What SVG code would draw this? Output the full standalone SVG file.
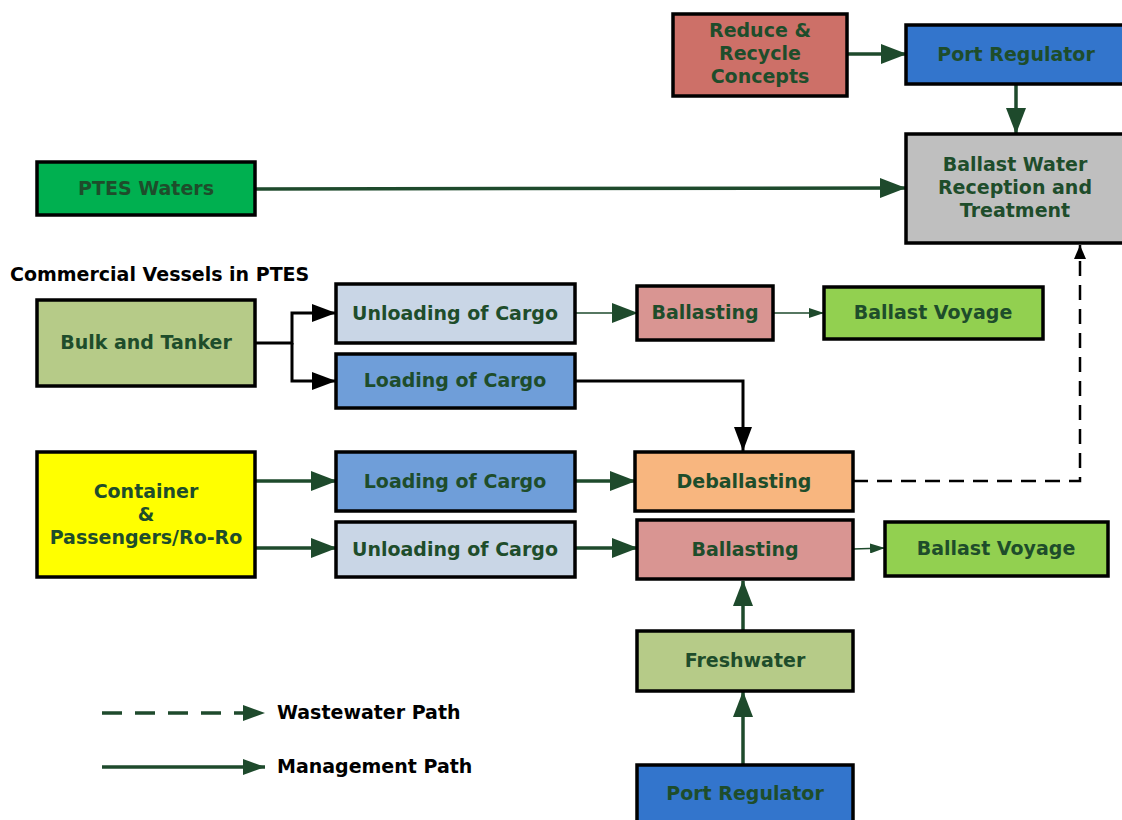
<svg xmlns="http://www.w3.org/2000/svg" width="1122" height="820" viewBox="0 0 1122 820">
<style>
.box{stroke:#000;stroke-width:3.5}
.t{font-family:"DejaVu Sans",Verdana,sans-serif;font-weight:bold;font-size:19px;fill:#1E4D2B;text-anchor:middle}
.lg{font-family:"DejaVu Sans",Verdana,sans-serif;font-weight:bold;font-size:19px;fill:#000}
.g{stroke:#1E4A2C;stroke-width:3.5;fill:none}
.gt{stroke:#1E4A2C;stroke-width:1.3;fill:none}
.k{stroke:#000;stroke-width:3;fill:none}
</style>
<defs>
<marker id="ag" markerUnits="userSpaceOnUse" markerWidth="26" markerHeight="20" refX="25" refY="10" orient="auto"><path d="M0,0 L26,10 L0,20 Z" fill="#1E4A2C"/></marker>
<marker id="agm" markerUnits="userSpaceOnUse" markerWidth="22" markerHeight="16" refX="22" refY="8" orient="auto"><path d="M0,0 L22,8 L0,16 Z" fill="#1E4A2C"/></marker>
<marker id="ags" markerUnits="userSpaceOnUse" markerWidth="15" markerHeight="10" refX="15" refY="5" orient="auto"><path d="M0,0 L15,5 L0,10 Z" fill="#1E4A2C"/></marker>
<marker id="ak" markerUnits="userSpaceOnUse" markerWidth="24" markerHeight="18" refX="24" refY="9" orient="auto"><path d="M0,0 L24,9 L0,18 Z" fill="#000"/></marker>
<marker id="aks" markerUnits="userSpaceOnUse" markerWidth="14" markerHeight="12" refX="14" refY="6" orient="auto"><path d="M0,0 L14,6 L0,12 Z" fill="#000"/></marker>
</defs>
<rect width="1122" height="820" fill="#fff"/>

<g id="connectors">
<line class="g" x1="847" y1="54" x2="906" y2="54" marker-end="url(#ag)"/>
<line class="g" x1="1016" y1="84" x2="1016" y2="133" marker-end="url(#ag)"/>
<line class="g" x1="255" y1="189" x2="905" y2="188" marker-end="url(#ag)"/>
<polyline class="k" points="255,343 292,343 292,313 336,313" marker-end="url(#ak)"/>
<polyline class="k" points="292,343 292,381 336,381" marker-end="url(#ak)"/>
<line class="gt" x1="575" y1="313" x2="637" y2="313" marker-end="url(#ag)"/>
<line class="gt" x1="773" y1="313" x2="824" y2="313" marker-end="url(#ags)"/>
<polyline class="k" points="575,381 743,381 743,451" marker-end="url(#ak)"/>
<polyline points="853,481 1080,481 1080,245" fill="none" stroke="#000" stroke-width="2.5" stroke-dasharray="15,9" marker-end="url(#aks)"/>
<line class="g" x1="255" y1="481" x2="336" y2="481" marker-end="url(#ag)"/>
<line class="g" x1="575" y1="481" x2="635" y2="481" marker-end="url(#ag)"/>
<line class="g" x1="255" y1="548" x2="336" y2="548" marker-end="url(#ag)"/>
<line class="g" x1="575" y1="548" x2="637" y2="548" marker-end="url(#ag)"/>
<line class="gt" x1="853" y1="549" x2="885" y2="548" marker-end="url(#ags)"/>
<line class="g" x1="743" y1="631" x2="743" y2="581" marker-end="url(#ag)"/>
<line class="g" x1="743" y1="765" x2="743" y2="692" marker-end="url(#ag)"/>
</g>

<g id="reduce"><rect class="box" x="673" y="14" width="174" height="82" fill="#CD7068"/>
<text class="t" x="760" y="37">Reduce &amp;</text><text class="t" x="760" y="60">Recycle</text><text class="t" x="760" y="83">Concepts</text></g>
<g id="portreg1"><rect class="box" x="906" y="25" width="220" height="59" fill="#3375CC"/>
<text class="t" x="1016" y="61">Port Regulator</text></g>
<g id="ballastwater"><rect class="box" x="906" y="134" width="220" height="109" fill="#BFBFBF"/>
<text class="t" x="1015" y="171">Ballast Water</text><text class="t" x="1015" y="194">Reception and</text><text class="t" x="1015" y="217">Treatment</text></g>
<g id="ptes"><rect class="box" x="37" y="162" width="218" height="53" fill="#00B050"/>
<text class="t" x="146" y="195">PTES Waters</text></g>
<text class="lg" x="10" y="281" font-size="18.5">Commercial Vessels in PTES</text>
<g id="bulk"><rect class="box" x="37" y="300" width="218" height="86" fill="#B6CB88"/>
<text class="t" x="146" y="349">Bulk and Tanker</text></g>
<g id="unload1"><rect class="box" x="336" y="284" width="239" height="59" fill="#C9D6E6"/>
<text class="t" x="455" y="320">Unloading of Cargo</text></g>
<g id="load1"><rect class="box" x="336" y="354" width="239" height="54" fill="#6F9ED9"/>
<text class="t" x="455" y="387">Loading of Cargo</text></g>
<g id="ballasting1"><rect class="box" x="637" y="286" width="136" height="54" fill="#D99592"/>
<text class="t" x="705" y="319">Ballasting</text></g>
<g id="voyage1"><rect class="box" x="824" y="287" width="219" height="52" fill="#92D050"/>
<text class="t" x="933" y="319">Ballast Voyage</text></g>
<g id="container"><rect class="box" x="37" y="452" width="218" height="125" fill="#FFFF00"/>
<text class="t" x="146" y="498">Container</text><text class="t" x="146" y="521">&amp;</text><text class="t" x="146" y="544">Passengers/Ro-Ro</text></g>
<g id="load2"><rect class="box" x="336" y="452" width="239" height="59" fill="#6F9ED9"/>
<text class="t" x="455" y="488">Loading of Cargo</text></g>
<g id="unload2"><rect class="box" x="336" y="522" width="239" height="55" fill="#C9D6E6"/>
<text class="t" x="455" y="556">Unloading of Cargo</text></g>
<g id="deballasting"><rect class="box" x="635" y="452" width="218" height="59" fill="#F8B67F"/>
<text class="t" x="744" y="488">Deballasting</text></g>
<g id="ballasting2"><rect class="box" x="637" y="520" width="216" height="59" fill="#D99592"/>
<text class="t" x="745" y="556">Ballasting</text></g>
<g id="voyage2"><rect class="box" x="885" y="522" width="223" height="54" fill="#92D050"/>
<text class="t" x="996" y="555">Ballast Voyage</text></g>
<g id="freshwater"><rect class="box" x="637" y="631" width="216" height="60" fill="#B6CB88"/>
<text class="t" x="745" y="667">Freshwater</text></g>
<g id="portreg2"><rect class="box" x="637" y="765" width="216" height="60" fill="#3375CC"/>
<text class="t" x="745" y="800">Port Regulator</text></g>

<g id="legend">
<line x1="102" y1="713" x2="265" y2="713" stroke="#1E4A2C" stroke-width="3.5" stroke-dasharray="20,13" marker-end="url(#agm)"/>
<text class="lg" x="277" y="719">Wastewater Path</text>
<line x1="102" y1="767" x2="265" y2="767" stroke="#1E4A2C" stroke-width="3.5" marker-end="url(#agm)"/>
<text class="lg" x="277" y="773">Management Path</text>
</g>
</svg>
